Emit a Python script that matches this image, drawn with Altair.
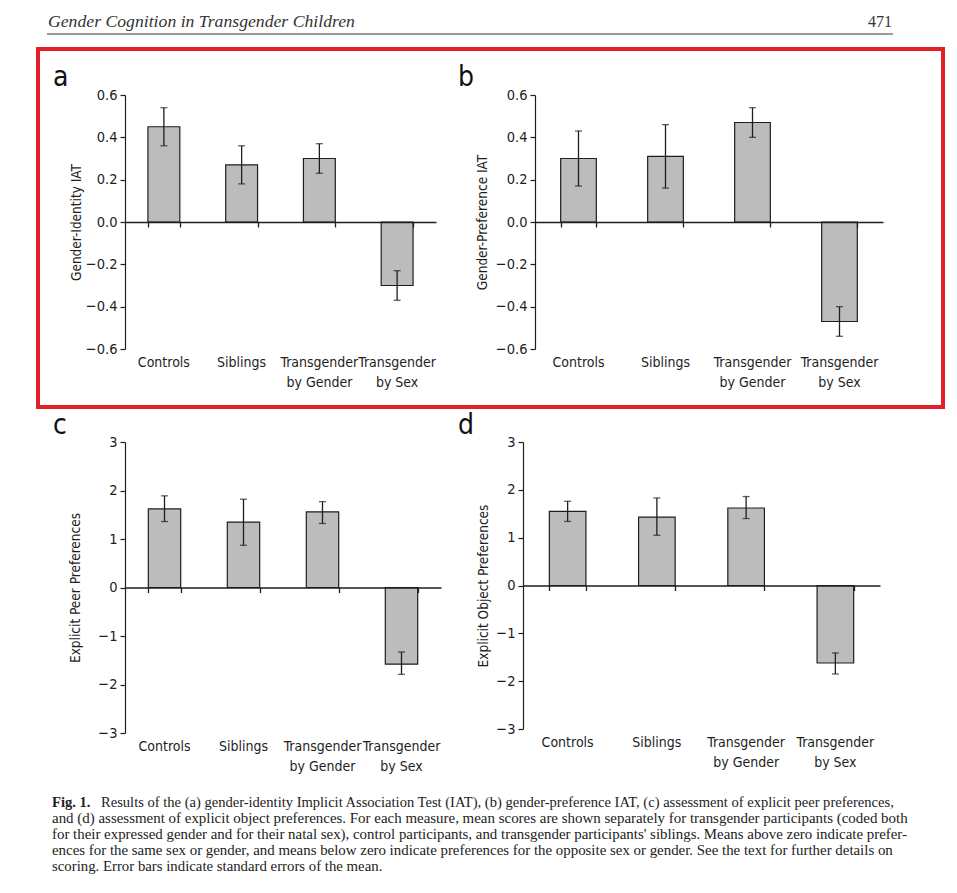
import altair as alt
import pandas as pd

# ---------------- data ----------------
categories = ["Controls", "Siblings", "Transgender by Gender", "Transgender by Sex"]

a_mean = [0.45, 0.27, 0.30, -0.30]
a_lo = [0.36, 0.18, 0.23, -0.37]
a_hi = [0.54, 0.36, 0.37, -0.23]

b_mean = [0.30, 0.31, 0.47, -0.47]
b_lo = [0.17, 0.16, 0.40, -0.54]
b_hi = [0.43, 0.46, 0.54, -0.40]

c_mean = [1.62, 1.35, 1.56, -1.58]
c_lo = [1.36, 0.87, 1.32, -1.79]
c_hi = [1.89, 1.82, 1.77, -1.33]

d_mean = [1.55, 1.43, 1.62, -1.62]
d_lo = [1.34, 1.05, 1.40, -1.85]
d_hi = [1.76, 1.83, 1.86, -1.41]

iat_ticks = [-0.6, -0.4, -0.2, 0.0, 0.2, 0.4, 0.6]
explicit_ticks = [-3, -2, -1, 0, 1, 2, 3]

header_text = "Gender Cognition in Transgender Children"
page_number = "471"
fig_label = "Fig. 1."
caption_lines = [
    "Results of the (a) gender-identity Implicit Association Test (IAT), (b) gender-preference IAT, (c) assessment of explicit peer preferences,",
    "and (d) assessment of explicit object preferences. For each measure, mean scores are shown separately for transgender participants (coded both",
    "for their expressed gender and for their natal sex), control participants, and transgender participants' siblings. Means above zero indicate prefer-",
    "ences for the same sex or gender, and means below zero indicate preferences for the opposite sex or gender. See the text for further details on",
    "scoring. Error bars indicate standard errors of the mean.",
]

# ---------------- styling / layout ----------------
W, H = 941, 877
M = 8
SANS = "Liberation Sans Narrow, DejaVu Sans Condensed, Liberation Sans, sans-serif"
SERIF = "Liberation Serif, DejaVu Serif, serif"
INK = "#1e1e1e"
BAR = "#bcbcbc"
RED = "#e3202a"


def panel(mean, lo, hi, box, ydom, yvals, fmt, title, title_x):
    x0, x1, yt, yb = [v - M for v in box]
    zero_px = yb + (yt - yb) * (0 - ydom[0]) / (ydom[1] - ydom[0])
    df = pd.DataFrame({"Category": categories, "Mean": mean, "Lo": lo, "Hi": hi})
    xs = alt.Scale(domain=categories, range=[x0, x1], paddingInner=0.59, paddingOuter=0.295)
    ys = alt.Scale(domain=ydom, range=[yb, yt], nice=False, zero=False)

    yaxis = alt.Axis(
        orient="left", offset=-x0, values=yvals, format=fmt, grid=False,
        domainColor=INK, domainWidth=1.2, tickColor=INK, tickWidth=1.2, tickSize=5,
        labelFont=SANS, labelFontSize=14.5, labelColor=INK, labelPadding=3,
        title=title, titleFont=SANS, titleFontSize=13.5, titleFontWeight="normal",
        titleColor=INK, titleAngle=270, titleX=title_x, titleY=zero_px,
        titleAlign="center", titleBaseline="middle",
    )
    label_axis = alt.Axis(
        orient="bottom", offset=yb - H, domain=False, ticks=False, grid=False,
        labelAngle=0, labelFont=SANS, labelFontSize=14, labelColor=INK,
        labelPadding=6, labelLineHeight=20, labelLimit=0,
        labelExpr="split(replace(datum.label, ' by ', '|by '), '|')",
        title=None,
    )
    zero_axis = alt.Axis(
        orient="bottom", offset=zero_px - H, domain=True, domainColor=INK,
        domainWidth=1.3, ticks=True, tickBand="extent", tickSize=5,
        tickColor=INK, tickWidth=1.3, labels=False, grid=False, title=None,
        zindex=1,
    )

    base = alt.Chart(df)
    bars = base.mark_bar(fill=BAR, stroke=INK, strokeWidth=1.2).encode(
        x=alt.X("Category:N", scale=xs, sort=categories, axis=label_axis),
        y=alt.Y("Mean:Q", scale=ys, axis=yaxis),
    )
    err = base.mark_rule(color=INK, strokeWidth=1.3).encode(
        x=alt.X("Category:N", scale=xs, sort=categories, axis=zero_axis),
        y=alt.Y("Lo:Q", scale=ys, axis=None),
        y2="Hi:Q",
    )
    cap_lo = base.mark_tick(color=INK, size=7, thickness=1.3).encode(
        x=alt.X("Category:N", scale=xs, sort=categories, axis=None),
        y=alt.Y("Lo:Q", scale=ys, axis=None),
    )
    cap_hi = base.mark_tick(color=INK, size=7, thickness=1.3).encode(
        x=alt.X("Category:N", scale=xs, sort=categories, axis=None),
        y=alt.Y("Hi:Q", scale=ys, axis=None),
    )
    return [bars, err, cap_lo, cap_hi]


def text_layer(txt, x, y, **kw):
    return alt.Chart(pd.DataFrame({"t": [txt]})).mark_text(**kw).encode(
        text="t:N", x=alt.value(x), y=alt.value(y)
    )


one = alt.Data(values=[{}])

layers = []
layers += panel(a_mean, a_lo, a_hi, (125, 436, 95, 349), [-0.6, 0.6], iat_ticks, ".1f",
                "Gender-Identity IAT", -49)
layers += panel(b_mean, b_lo, b_hi, (535, 883, 95, 349), [-0.6, 0.6], iat_ticks, ".1f",
                "Gender-Preference IAT", -53)
layers += panel(c_mean, c_lo, c_hi, (125, 441, 442, 733), [-3, 3], explicit_ticks, "d",
                "Explicit  Peer Preferences", -50)
layers += panel(d_mean, d_lo, d_hi, (523, 880, 442, 729), [-3, 3], explicit_ticks, "d",
                "Explicit Object Preferences", -40)

# red highlight box
layers.append(alt.Chart(one).mark_rect(fillOpacity=0, stroke=RED, strokeWidth=4).encode(
    x=alt.value(30), x2=alt.value(935), y=alt.value(41), y2=alt.value(399)))
# running header
layers.append(alt.Chart(one).mark_rule(color="#7a7a7a", strokeWidth=1.5).encode(
    x=alt.value(39), x2=alt.value(885), y=alt.value(26)))
layers.append(text_layer(header_text, 40, 14, font=SERIF, fontSize=17.7, fontStyle="italic",
                         color="#333333", align="left", baseline="middle"))
layers.append(text_layer(page_number, 884, 14, font=SERIF, fontSize=16,
                         color="#333333", align="right", baseline="middle"))
# panel letters
for letter, lx, ly in [("a", 45, 78), ("b", 450, 78), ("c", 45, 426), ("d", 450, 426)]:
    layers.append(text_layer(letter, lx, ly, font=SANS, fontSize=28, color="#111111",
                             align="left", baseline="alphabetic"))
# caption
layers.append(text_layer(fig_label, 44, 795, font=SERIF, fontSize=14.6, fontWeight="bold",
                         color="#222222", align="left", baseline="middle"))
cap_x = [93, 44, 44, 44, 44]
cap_size = [14.55, 14.95, 14.9, 14.9, 14.8]
for i, line in enumerate(caption_lines):
    layers.append(text_layer(line, cap_x[i], 795 + 16 * i, font=SERIF, fontSize=cap_size[i],
                             color="#222222", align="left", baseline="middle"))

chart = alt.layer(*layers).resolve_scale(x="independent", y="independent").properties(
    width=W, height=H, autosize=alt.AutoSizeParams(type="none"), padding=0,
    background="white",
).configure_view(stroke=None)

chart.save("out.html", embed_options={"renderer": "svg", "actions": False})
